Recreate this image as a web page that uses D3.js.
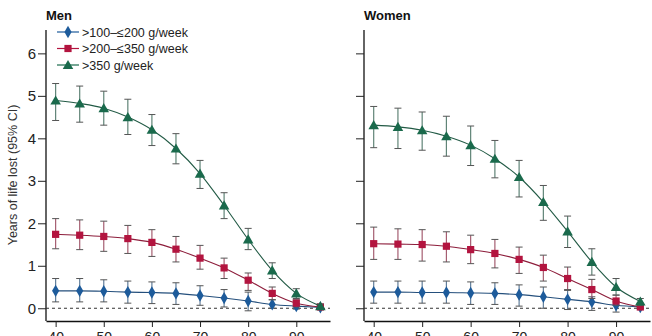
<!DOCTYPE html>
<html><head><meta charset="utf-8">
<script src="https://cdn.jsdelivr.net/npm/d3@7"></script>
<style>body{margin:0;background:#fff}svg{display:block}text{font-family:"Liberation Sans",Arial,sans-serif}</style>
</head><body><svg id="c" width="652" height="336"></svg>
<script>
const ages = [40,45,50,55,60,65,70,75,80,85,90,95];
const xTicks = [40,50,60,70,80,90];
const yTicks = [0,1,2,3,4,5,6];
const seriesNames = [">100–≤200 g/week", ">200–≤350 g/week", ">350 g/week"];
// Men
const menLow  = [0.41,0.41,0.40,0.38,0.37,0.35,0.30,0.24,0.17,0.09,0.05,0.02];
const menLowL = [0.15,0.15,0.15,0.12,0.11,0.09,0.07,0.03,-0.06,0.00,-0.02,0.00];
const menLowU = [0.70,0.70,0.67,0.64,0.62,0.60,0.53,0.44,0.38,0.20,0.10,0.04];
const menMid  = [1.74,1.72,1.69,1.64,1.55,1.39,1.18,0.95,0.66,0.35,0.12,0.03];
const menMidL = [1.40,1.38,1.34,1.29,1.22,1.09,0.92,0.70,0.42,0.20,0.03,0.00];
const menMidU = [2.11,2.08,2.05,1.95,1.85,1.69,1.48,1.18,0.83,0.50,0.20,0.07];
const menHigh  = [4.89,4.82,4.71,4.50,4.20,3.76,3.17,2.42,1.62,0.89,0.35,0.05];
const menHighL = [4.42,4.38,4.31,4.09,3.83,3.40,2.82,2.11,1.38,0.70,0.23,0.00];
const menHighU = [5.29,5.23,5.11,4.92,4.56,4.11,3.48,2.72,1.88,1.07,0.46,0.10];
// Women
const womenLow  = [0.38,0.38,0.37,0.37,0.36,0.35,0.32,0.27,0.21,0.15,0.07,0.03];
const womenLowL = [0.12,0.12,0.12,0.12,0.09,0.09,0.05,0.00,-0.03,-0.05,-0.09,-0.01];
const womenLowU = [0.64,0.64,0.64,0.64,0.62,0.60,0.55,0.50,0.42,0.27,0.15,0.07];
const womenMid  = [1.52,1.51,1.50,1.46,1.38,1.29,1.15,0.96,0.70,0.44,0.17,0.03];
const womenMidL = [1.15,1.15,1.11,1.09,1.05,0.95,0.82,0.64,0.44,0.23,0.07,0.00];
const womenMidU = [1.91,1.87,1.85,1.80,1.72,1.62,1.44,1.25,0.97,0.68,0.31,0.12];
const womenHigh  = [4.31,4.27,4.19,4.05,3.84,3.52,3.09,2.50,1.81,1.09,0.50,0.16];
const womenHighL = [3.78,3.76,3.72,3.58,3.36,3.07,2.62,2.07,1.43,0.78,0.31,0.07];
const womenHighU = [4.75,4.71,4.62,4.52,4.29,3.95,3.48,2.89,2.17,1.40,0.70,0.23];

const colors = ["#1d5b9b","#b3143f","#1a6a4c"];
const symbols = [d3.symbolDiamond, d3.symbolSquare, d3.symbolTriangle];
const symSizes = [44, 52, 48];

const svg = d3.select("#c");
const y = d3.scaleLinear().domain([-0.3, 6.55]).range([321, 30]);

const panels = [
  {title:"Men", x0:46, x1:330, labels:true,
   series:[[menLow,menLowL,menLowU],[menMid,menMidL,menMidU],[menHigh,menHighL,menHighU]]},
  {title:"Women", x0:364, x1:650, labels:false,
   series:[[womenLow,womenLowL,womenLowU],[womenMid,womenMidL,womenMidU],[womenHigh,womenHighL,womenHighU]]}
];

panels.forEach(p => {
  const x = d3.scaleLinear().domain([38, 97]).range([p.x0, p.x1]);
  const g = svg.append("g");
  // y axis
  const ya = g.append("g").attr("transform",`translate(${p.x0},0)`)
    .call(d3.axisLeft(y).tickValues(yTicks).tickSize(8).tickSizeOuter(0).tickFormat(p.labels ? d3.format("d") : ""));
  ya.select(".domain").attr("d", `M0,${y.range()[1]}V${y.range()[0]}`).attr("stroke","#111").attr("stroke-width",1.3);
  ya.selectAll(".tick line").attr("stroke","#222");
  ya.selectAll(".tick text").attr("font-size",15).attr("fill","#222").attr("x",-10);
  // x axis
  const xa = g.append("g").attr("transform",`translate(0,321)`)
    .call(d3.axisBottom(x).tickValues(xTicks).tickSize(6).tickSizeOuter(0).tickFormat(d3.format("d")));
  xa.select(".domain").attr("stroke","#111").attr("stroke-width",1.3);
  xa.selectAll(".tick line").attr("stroke","#222");
  xa.selectAll(".tick text").attr("font-size",14).attr("fill","#222").attr("y",11);
  // zero dashed line
  g.append("line").attr("x1",p.x0).attr("x2",p.x1).attr("y1",y(0)).attr("y2",y(0))
    .attr("stroke","#333").attr("stroke-dasharray","3,3").attr("stroke-width",1);
  // title
  g.append("text").attr("x",p.x0).attr("y",20).attr("font-size",13).attr("font-weight","bold").attr("fill","#111").text(p.title);

  const line = d3.line().x((d,i)=>x(ages[i])).y(d=>y(d)).curve(d3.curveMonotoneX);
  p.series.forEach((s,k) => {
    const [v,lo,hi] = s;
    const c = colors[k];
    const stemCol = d3.interpolateRgb(c, "#9a9a9a")(0.55);
    const eb = g.append("g");
    ages.forEach((a,i) => {
      const xx = x(a);
      eb.append("line").attr("x1",xx).attr("x2",xx).attr("y1",y(lo[i])).attr("y2",y(hi[i])).attr("stroke",stemCol).attr("stroke-width",1.2);
      [lo[i],hi[i]].forEach(e => eb.append("line").attr("x1",xx-3.5).attr("x2",xx+3.5).attr("y1",y(e)).attr("y2",y(e)).attr("stroke","#555").attr("stroke-width",1));
    });
    g.append("path").attr("d", line(v)).attr("fill","none").attr("stroke",d3.interpolateRgb(c,"#333")(0.3)).attr("stroke-width",1.1);
    g.selectAll(null).data(v).join("path")
      .attr("transform",(d,i)=>`translate(${x(ages[i])},${y(d)})${k==2?" translate(0,1)":""}`)
      .attr("d", d3.symbol(symbols[k], symSizes[k])).attr("fill",c);
  });
});

// y axis label
svg.append("text").attr("transform","translate(17,175) rotate(-90)").attr("text-anchor","middle")
  .attr("font-size",12.5).attr("fill","#333").text("Years of life lost (95% CI)");

// legend
const lg = svg.append("g");
seriesNames.forEach((n,k) => {
  const cy = 32 + k*16.5;
  lg.append("line").attr("x1",57).attr("x2",79).attr("y1",cy).attr("y2",cy).attr("stroke",colors[k]).attr("stroke-width",1.2);
  lg.append("path").attr("transform",`translate(68,${cy + (k==2?1:0)})`).attr("d",d3.symbol(symbols[k], symSizes[k])).attr("fill",colors[k]);
  lg.append("text").attr("x",82).attr("y",cy+4.5).attr("font-size",12.5).attr("fill","#222").text(n);
});
</script></body></html>
